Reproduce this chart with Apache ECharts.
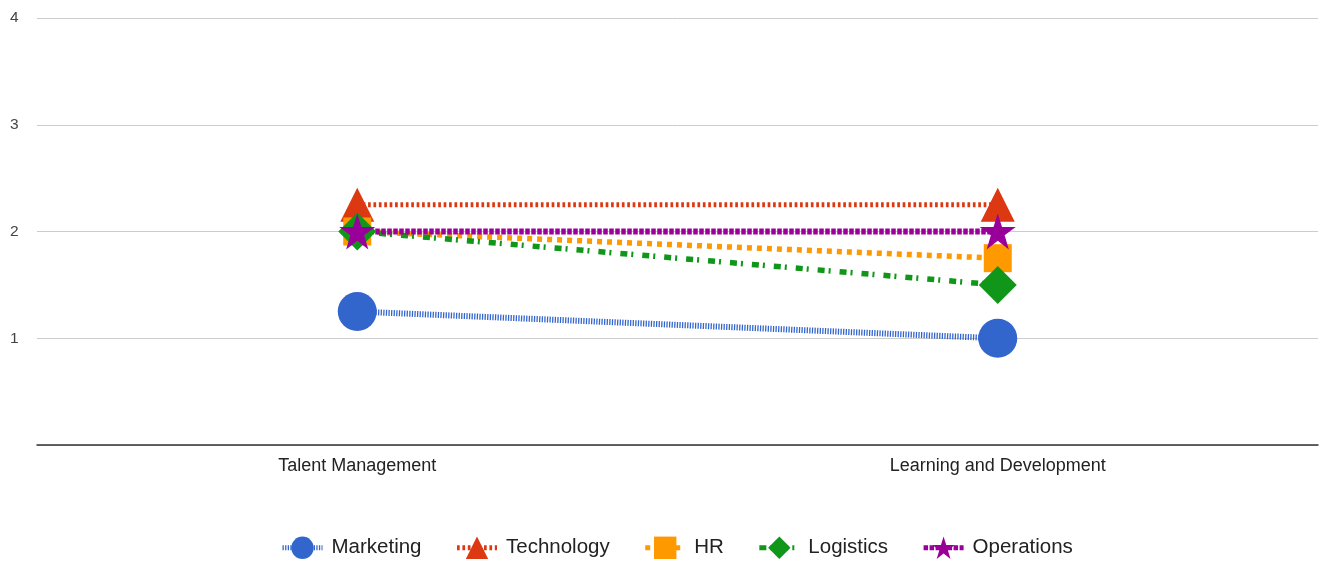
<!DOCTYPE html>
<html><head><meta charset="utf-8">
<script src="https://cdn.jsdelivr.net/npm/echarts@6/dist/echarts.min.js"></script>
<style>html,body{margin:0;padding:0;background:#fff}#c{width:1322px;height:562px}</style>
</head><body><div id="c"></div>
<script>
const categories = ["Talent Management", "Learning and Development"];
const marketing = [1.25, 1];
const technology = [2.25, 2.25];
const hr = [2, 1.75];
const logistics = [2, 1.5];
const operations = [2, 2];
const yTicks = [0, 1, 2, 3, 4];

const chart = echarts.init(document.getElementById('c'), null, {renderer: 'canvas'});
function s(name, data, color, symbol, size, dash, width) {
  return {
    name, type: 'line', data, symbol, symbolSize: size,
    itemStyle: {color, opacity: 1},
    lineStyle: {color, width, type: dash},
    emphasis: {disabled: true}
  };
}
chart.setOption({
  animation: false,
  textStyle: {fontFamily: 'Liberation Sans, Arial, sans-serif'},
  grid: {left: 37, right: 4, top: 18, bottom: 117},
  xAxis: {
    type: 'category', data: categories, boundaryGap: true,
    axisLine: {lineStyle: {color: '#333', width: 1.5}},
    axisTick: {show: false},
    axisLabel: {color: '#222', fontSize: 18, margin: 12}
  },
  yAxis: {
    type: 'value', min: yTicks[0], max: yTicks[yTicks.length - 1], interval: 1,
    axisLine: {show: false}, axisTick: {show: false},
    splitLine: {lineStyle: {color: '#ccc', width: 1}},
    axisLabel: {color: '#444', fontSize: 15.5, margin: 27, align: 'left', verticalAlign: 'middle', lineHeight: 20, padding: [4, 0, 0, 0],
      formatter: v => v === 0 ? '' : String(v)}
  },
  legend: {
    bottom: -2, left: 275, itemWidth: 40, itemHeight: 28, itemGap: 33,
    lineStyle: {width: 5},
    textStyle: {color: '#222', fontSize: 20.5, padding: [0,0,0,4]},
    data: ['Marketing', 'Technology', 'HR', 'Logistics', 'Operations']
  },
  series: [
    s('Marketing', marketing, '#3366cc', 'circle', 39, [1.3, 1.3], 6),
    s('Technology', technology, '#dc3912', 'triangle', 34, [2.7, 2.7], 5),
    s('HR', hr, '#ff9900', 'rect', 28, [5, 5], 5.5),
    s('Logistics', logistics, '#109618', 'diamond', 38, [7, 4, 2, 9], 5.5),
    s('Operations', operations, '#990099', 'path://M50,0 L61.8,35.5 L100,35.5 L69.1,57.5 L80.9,95 L50,72 L19.1,95 L30.9,57.5 L0,35.5 L38.2,35.5 Z', 36, [4.5, 1.5], 6)
  ]
});
</script></body></html>
